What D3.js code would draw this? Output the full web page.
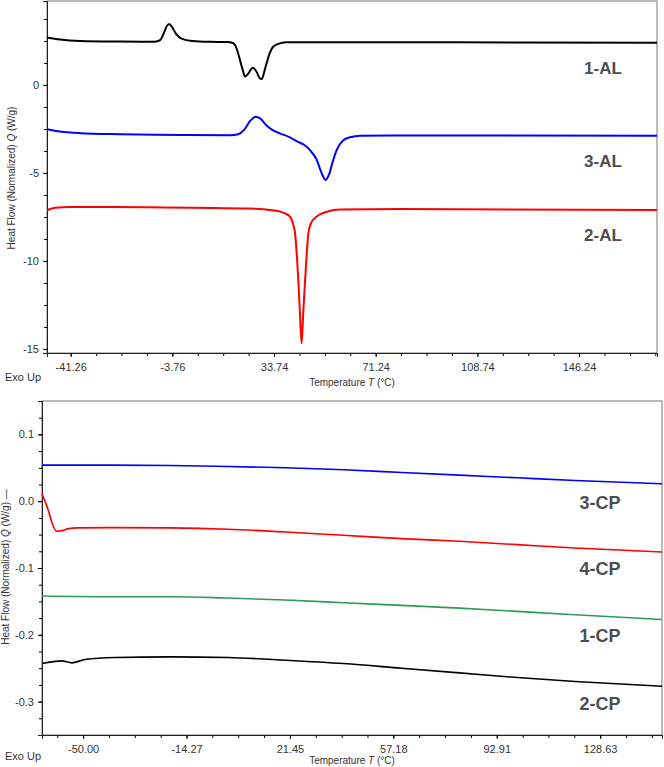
<!DOCTYPE html>
<html>
<head>
<meta charset="utf-8">
<script src="https://cdn.jsdelivr.net/npm/d3@7"></script>
<style>
  body { margin: 0; background: #fff; }
  svg text { font-family: "Liberation Sans Narrow", "Arial Narrow", "Liberation Sans", sans-serif; fill: #333; }
  .lbl { font-family: "Liberation Sans", Arial, sans-serif !important; font-weight: bold; fill: #4d4d4d; }
</style>
</head>
<body>
<svg id="chart" width="664" height="767"></svg>
<script>
// ---- top panel (AL samples) ----
const alTicks = [-41.26, -3.76, 33.74, 71.24, 108.74, 146.24];
const alYTicks = [-15, -10, -5, 0];

const temp1AL = [-50, -45.2, -37.8, -23.1, -10.2, -8.3, -6.9, -5.8, -4.9, -3.9, -2.4, -0.2, 3.5, 10.1, 16.4, 18.6, 20.1, 21.2, 22.3, 23.0, 24.1, 25.9, 27.3, 28.4, 29.2, 30.4, 31.9, 33.5, 35.9, 38.5, 54.4, 175];
const flow1AL = [2.70, 2.58, 2.50, 2.47, 2.46, 2.55, 2.95, 3.35, 3.47, 3.30, 2.90, 2.62, 2.50, 2.45, 2.44, 2.38, 2.00, 1.40, 0.80, 0.47, 0.62, 0.98, 0.75, 0.40, 0.34, 0.90, 1.70, 2.18, 2.36, 2.42, 2.43, 2.40];

const temp3AL = [-50, -45.2, -37.8, -23.1, -0.9, 17.5, 20.5, 22.7, 24.9, 27.0, 28.6, 31.0, 33.4, 35.9, 39.6, 42.2, 44.8, 47.0, 49.5, 51.4, 52.8, 54.0, 55.5, 57.0, 59.2, 61.8, 65.5, 80.2, 175];
const flow3AL = [-2.52, -2.65, -2.74, -2.80, -2.84, -2.86, -2.80, -2.55, -2.05, -1.80, -1.90, -2.30, -2.58, -2.75, -2.98, -3.20, -3.40, -3.70, -4.26, -5.05, -5.40, -5.10, -4.30, -3.65, -3.15, -2.97, -2.89, -2.87, -2.88];

const temp2AL = [-50, -47.0, -41.5, -12.0, 24.9, 34.7, 37.8, 39.6, 40.7, 41.5, 42.2, 42.7, 43.3, 43.9, 44.5, 45.2, 45.8, 46.4, 47.4, 48.9, 50.7, 53.2, 58.1, 80.2, 175];
const flow2AL = [-7.12, -6.98, -6.93, -6.95, -7.02, -7.15, -7.30, -7.48, -7.85, -8.43, -9.80, -11.08, -13.0, -14.68, -13.0, -11.08, -9.60, -8.43, -7.85, -7.55, -7.35, -7.20, -7.07, -7.05, -7.10];

// ---- bottom panel (CP samples) ----
const cpTicks = [-50.00, -14.27, 21.45, 57.18, 92.91, 128.63];
const cpYTicks = [-0.3, -0.2, -0.1, 0.0, 0.1];

const temp3CP = [-64.2, -40, -20, 0, 20, 40, 60, 80, 100, 120, 150];
const flow3CP = [0.054, 0.054, 0.0535, 0.052, 0.050, 0.047, 0.043, 0.039, 0.035, 0.031, 0.026];

const temp4CP = [-64.2, -63, -62, -60.7, -59.1, -57.3, -55, -52, -40, -20, 0, 20, 40, 60, 80, 100, 120, 150];
const flow4CP = [0.011, -0.002, -0.014, -0.033, -0.045, -0.044, -0.041, -0.040, -0.0395, -0.040, -0.042, -0.046, -0.051, -0.056, -0.060, -0.065, -0.070, -0.076];

const temp1CP = [-64.2, -40, -20, 0, 20, 40, 60, 80, 100, 120, 150];
const flow1CP = [-0.142, -0.143, -0.143, -0.145, -0.148, -0.152, -0.156, -0.160, -0.165, -0.170, -0.177];

const temp2CP = [-64.2, -57.4, -53.9, -49.3, -39.0, -20, 0, 20, 40, 60, 80, 100, 120, 150];
const flow2CP = [-0.243, -0.239, -0.242, -0.237, -0.234, -0.233, -0.234, -0.238, -0.243, -0.250, -0.257, -0.264, -0.270, -0.277];

const svg = d3.select("#chart");

function zip(ts, qs) { return ts.map((t, i) => ({ t, q: qs[i] })); }
// plain hyphen minus like the instrument software
const fmt = spec => { const f = d3.format(spec); return v => f(v).replace("\u2212", "-"); };

function panel(cfg) {
  const x = d3.scaleLinear().domain(cfg.xDomain).range([cfg.left, cfg.right]);
  const y = d3.scaleLinear().domain(cfg.yDomain).range([cfg.bottom, cfg.top]);
  const g = svg.append("g");

  // frame
  g.append("rect")
    .attr("x", cfg.left).attr("y", cfg.top)
    .attr("width", cfg.right - cfg.left).attr("height", cfg.bottom - cfg.top)
    .attr("fill", "none").attr("stroke", "#777").attr("stroke-width", 1);

  // minor ticks
  const xMinor = [], yMinor = [];
  const xs = cfg.xStep / 4;
  for (let v = cfg.xTicks[0]; v >= cfg.xDomain[0]; v -= xs) xMinor.push(v);
  for (let v = cfg.xTicks[0] + xs; v <= cfg.xDomain[1]; v += xs) xMinor.push(v);
  const ys = cfg.yStep / 4;
  for (let v = cfg.yTicks[0]; v <= cfg.yDomain[1] + 1e-9; v += ys) yMinor.push(v);
  for (let v = cfg.yTicks[0] - ys; v >= cfg.yDomain[0] - 1e-9; v -= ys) yMinor.push(v);

  const xAxis = g.append("g").attr("transform", `translate(0,${cfg.bottom})`);
  xAxis.call(d3.axisBottom(x).tickValues(xMinor).tickSize(3).tickFormat(""));
  xAxis.append("g").call(d3.axisBottom(x).tickValues(cfg.xTicks).tickSize(4).tickPadding(6)
    .tickFormat(cfg.xFormat));
  xAxis.selectAll(".domain").attr("stroke", "#222");
  xAxis.selectAll("text").attr("font-size", 11).attr("fill", "#333");

  const yAxis = g.append("g").attr("transform", `translate(${cfg.left},0)`);
  yAxis.call(d3.axisLeft(y).tickValues(yMinor).tickSize(3).tickFormat(""));
  yAxis.append("g").call(d3.axisLeft(y).tickValues(cfg.yTicks).tickSize(4).tickPadding(4)
    .tickFormat(cfg.yFormat));
  yAxis.selectAll(".domain").attr("stroke", "#222");
  yAxis.selectAll("text").attr("font-size", 11).attr("fill", "#333");

  const line = d3.line().x(d => x(d.t)).y(d => y(d.q)).curve(d3.curveMonotoneX);
  cfg.series.forEach(s => {
    g.append("path")
      .datum(zip(s.t, s.q))
      .attr("d", line)
      .attr("fill", "none")
      .attr("stroke", s.color)
      .attr("stroke-width", cfg.lineWidth)
      .attr("stroke-linejoin", "round");
    g.append("text").attr("class", "lbl")
      .attr("x", cfg.labelX).attr("y", s.labelY)
      .attr("text-anchor", "middle").attr("dominant-baseline", "central")
      .attr("font-size", cfg.labelSize)
      .text(s.name);
  });

  // axis titles
  const yt = g.append("text")
    .attr("transform", `translate(${cfg.yTitleX},${cfg.yTitleY}) rotate(-90)`)
    .attr("text-anchor", "middle").attr("font-size", 10).attr("fill", "#333");
  yt.append("tspan").text("Heat Flow (Normalized) ");
  yt.append("tspan").attr("font-style", "italic").text("Q");
  yt.append("tspan").text("  (W/g)" + cfg.yTitleTail);

  const xt = g.append("text")
    .attr("x", 352).attr("y", cfg.xTitleY)
    .attr("text-anchor", "middle").attr("font-size", 10).attr("fill", "#333");
  xt.append("tspan").text("Temperature ");
  xt.append("tspan").attr("font-style", "italic").text("T");
  xt.append("tspan").text(" (°C)");

  g.append("text").attr("x", 5).attr("y", cfg.exoY)
    .attr("font-size", 11).attr("fill", "#333").text("Exo Up");
}

panel({
  left: 47, right: 657, top: 1, bottom: 353,
  xDomain: [-50, 175], yDomain: [-15.23, 4.77],
  xTicks: alTicks, xStep: 37.5, yTicks: alYTicks, yStep: 5,
  xFormat: fmt(".2f"), yFormat: fmt("d"),
  lineWidth: 2, labelX: 603, labelSize: 17,
  series: [
    { name: "1-AL", t: temp1AL, q: flow1AL, color: "#000000", labelY: 68 },
    { name: "3-AL", t: temp3AL, q: flow3AL, color: "#0000ff", labelY: 161 },
    { name: "2-AL", t: temp2AL, q: flow2AL, color: "#ff0000", labelY: 235 }
  ],
  yTitleX: 15, yTitleY: 178, yTitleTail: "",
  xTitleY: 386, exoY: 381
});

panel({
  left: 42, right: 662, top: 401, bottom: 735,
  xDomain: [-64.2, 150], yDomain: [-0.35, 0.15],
  xTicks: cpTicks, xStep: 35.7267, yTicks: cpYTicks, yStep: 0.1,
  xFormat: fmt(".2f"), yFormat: fmt(".1f"),
  lineWidth: 1.6, labelX: 600, labelSize: 18,
  series: [
    { name: "3-CP", t: temp3CP, q: flow3CP, color: "#0000ff", labelY: 503 },
    { name: "4-CP", t: temp4CP, q: flow4CP, color: "#ff0000", labelY: 569 },
    { name: "1-CP", t: temp1CP, q: flow1CP, color: "#2e9a5c", labelY: 636 },
    { name: "2-CP", t: temp2CP, q: flow2CP, color: "#000000", labelY: 704 }
  ],
  yTitleX: 9, yTitleY: 567, yTitleTail: " \u2014",
  xTitleY: 764, exoY: 760
});
</script>
</body>
</html>
